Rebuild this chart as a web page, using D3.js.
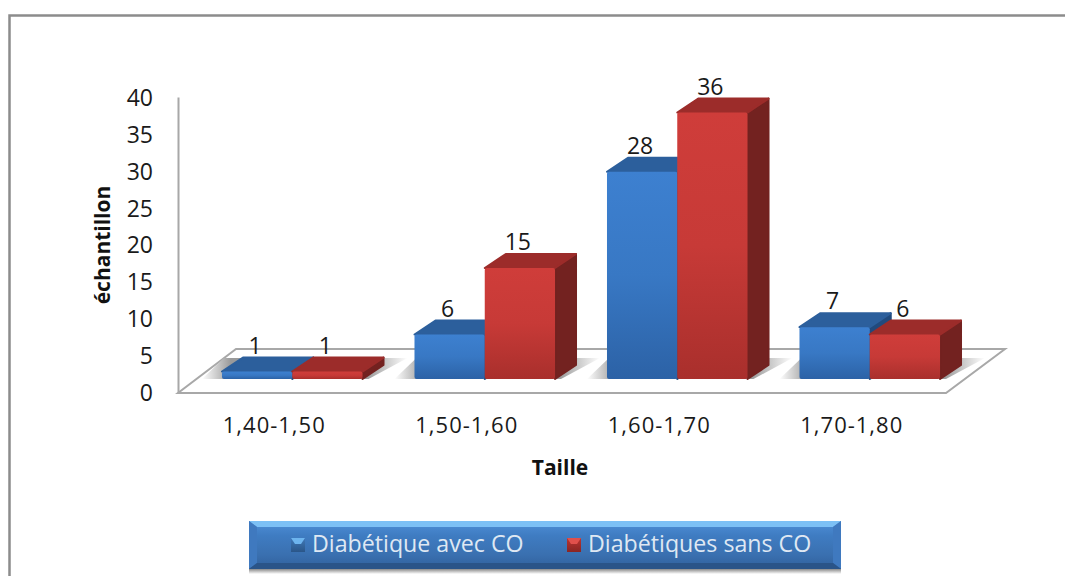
<!DOCTYPE html>
<html>
<head>
<meta charset="utf-8">
<script src="https://cdn.jsdelivr.net/npm/d3@7"></script>
<style>
  html, body { margin: 0; padding: 0; background: #fff; overflow: hidden; }
  text { font-family: "Open Sans", sans-serif; }
</style>
</head>
<body>
<script>
var categories = ["1,40-1,50", "1,50-1,60", "1,60-1,70", "1,70-1,80"];
var seriesNames = ["Diabétique avec CO", "Diabétiques sans CO"];
var avecCO = [1, 6, 28, 7];
var sansCO = [1, 15, 36, 6];
var yTicks = [0, 5, 10, 15, 20, 25, 30, 35, 40];

var width = 1065, height = 576;

var svg = d3.select("body").append("svg")
    .attr("width", width)
    .attr("height", height)
    .style("display", "block");

var defs = svg.append("defs");

function gradient(id, stops, horizontal) {
  var g = defs.append("linearGradient").attr("id", id)
    .attr("x1", 0).attr("y1", 0)
    .attr("x2", horizontal ? 1 : 0).attr("y2", horizontal ? 0 : 1);
  stops.forEach(function(s) {
    g.append("stop").attr("offset", s[0]).attr("stop-color", s[1]);
  });
}
gradient("frontBlue", [[0, "#3d80d0"], [0.5, "#3878c4"], [1, "#2c62a6"]]);
gradient("frontRed", [[0, "#cf3d3a"], [0.5, "#c73a37"], [1, "#a92f2c"]]);
gradient("legendBg", [[0, "#4f90d8"], [0.3, "#3f7cc2"], [0.7, "#3a70b0"], [1, "#30609c"]]);
gradient("swatchBlue", [[0, "#3f78b8"], [1, "#2a5688"]]);
gradient("swatchRed", [[0, "#b93431"], [1, "#8a2523"]]);
gradient("floorShadow", [[0, "#ffffff"], [0.14, "#9a9a9a"], [0.8, "#9a9a9a"], [1, "#ffffff"]], true);
gradient("legendDrop", [[0, "#8a8a8a"], [1, "#ffffff"]]);

// outer frame, only top and left sides are in the picture
svg.append("path")
    .attr("d", "M1065,15.5H9.5V576")
    .attr("fill", "none")
    .attr("stroke", "#8c8c8c")
    .attr("stroke-width", 2.5);

// scales
var floorLeft = 178, floorRight = 948, floorFront = 393;
var x = d3.scaleBand().domain(categories).range([floorLeft, floorRight]).paddingInner(0.27).paddingOuter(0.135);
var x1 = d3.scaleBand().domain(seriesNames).range([0, x.bandwidth()]);
var y = d3.scaleLinear().domain([0, 40]).range([floorFront, 97]);

// 3d offsets
var floorDepth = {dx: 58, dy: -44};
var barShift = {dx: 18, dy: -14};
var barDepth = {dx: 21, dy: -14};

// floor
svg.append("path")
    .attr("d", "M" + floorLeft + "," + floorFront +
      "L" + (floorRight - 2) + "," + floorFront +
      "L" + (floorRight - 2 + floorDepth.dx + 1) + "," + (floorFront + floorDepth.dy) +
      "L" + (floorLeft + floorDepth.dx) + "," + (floorFront + floorDepth.dy) + "Z")
    .attr("fill", "#fff")
    .attr("stroke", "#a8a8a8")
    .attr("stroke-width", 2);

// shadows on the floor, behind each pair of bars
svg.append("g").selectAll("path")
    .data(categories)
    .enter().append("path")
    .attr("d", function(d) {
      var x0 = x(d) + barShift.dx, x2 = x0 + x.bandwidth(), b = floorFront + barShift.dy;
      return "M" + (x0 - 20) + "," + b + "L" + (x2 + 6) + "," + b +
        "L" + (x2 + barDepth.dx + 24) + "," + (b + barDepth.dy - 7) + "L" + (x0 + 2) + "," + (b + barDepth.dy - 7) + "Z";
    })
    .attr("fill", "url(#floorShadow)");

// y axis with the wall line
var yAxis = d3.axisLeft(y).tickValues(yTicks).tickSize(0).tickPadding(25).tickFormat(d3.format("d"));
var yG = svg.append("g")
    .attr("transform", "translate(" + floorLeft + ",0)")
    .call(yAxis);
yG.select(".domain").attr("stroke", "#a8a8a8").attr("stroke-width", 2);
yG.selectAll("text")
    .attr("font-family", "Open Sans")
    .attr("font-size", 23)
    .attr("fill", "#1a1a1a")
    .attr("dy", "0.32em")
    .attr("y", function(d) { return d / 40; });

// x axis labels
var xAxis = d3.axisBottom(x).tickSize(0).tickPadding(24);
var xG = svg.append("g")
    .attr("transform", "translate(0," + floorFront + ")")
    .call(xAxis);
xG.select(".domain").remove();
xG.selectAll("text")
    .attr("font-family", "Open Sans")
    .attr("font-size", 22)
    .attr("letter-spacing", 1)
    .attr("fill", "#1a1a1a");

// bars
var colors = [
  {front: "url(#frontBlue)", top: "#2c5f9c", side: "#214a7d"},
  {front: "url(#frontRed)", top: "#9c2c2a", side: "#732220"}
];
var series = [avecCO, sansCO];

series.forEach(function(values, s) {
  var c = colors[s];
  var g = svg.append("g").selectAll("g")
      .data(values)
      .enter().append("g")
      .attr("transform", function(d, i) {
        return "translate(" + (x(categories[i]) + x1(seriesNames[s]) + barShift.dx) + "," + barShift.dy + ")";
      });
  var w = x1.bandwidth();

  g.append("path")
      .attr("d", function(d) {
        return "M" + w + "," + y(d) + "l" + barDepth.dx + "," + barDepth.dy +
          "V" + (floorFront + barDepth.dy) + "l" + (-barDepth.dx) + "," + (-barDepth.dy) + "Z";
      })
      .attr("fill", c.side).attr("stroke", c.side).attr("stroke-width", 2).attr("stroke-linejoin", "round");
  g.append("path")
      .attr("d", function(d) {
        return "M0," + y(d) + "l" + barDepth.dx + "," + barDepth.dy + "h" + w +
          "l" + (-barDepth.dx) + "," + (-barDepth.dy) + "Z";
      })
      .attr("fill", c.top).attr("stroke", c.top).attr("stroke-width", 2).attr("stroke-linejoin", "round");
  g.append("rect")
      .attr("x", 0)
      .attr("y", function(d) { return y(d); })
      .attr("width", w)
      .attr("height", function(d) { return floorFront - y(d); })
      .attr("rx", 2)
      .attr("fill", c.front);
});

// value labels go on top of all bars
series.forEach(function(values, s) {
  svg.append("g").selectAll("text")
      .data(values)
      .enter().append("text")
      .attr("x", function(d, i) { return x(categories[i]) + x1(seriesNames[s]) + barShift.dx + x1.bandwidth() / 2 - 2; })
      .attr("y", function(d) { return y(d) + barShift.dy - 18; })
      .attr("text-anchor", "middle")
      .attr("font-size", 23)
      .attr("fill", "#1a1a1a")
      .text(function(d) { return d; });
});

// axis titles
svg.append("text")
    .attr("transform", "translate(110,245) rotate(-90)")
    .attr("text-anchor", "middle")
    .attr("font-size", 21)
    .attr("font-weight", "bold")
    .attr("fill", "#111")
    .text("échantillon");
svg.append("text")
    .attr("x", 560)
    .attr("y", 475)
    .attr("text-anchor", "middle")
    .attr("font-size", 21)
    .attr("font-weight", "bold")
    .attr("fill", "#111")
    .text("Taille");

// legend
var legend = svg.append("g").attr("transform", "translate(249,521)");
legend.append("rect")
    .attr("y", 48).attr("width", 592).attr("height", 5)
    .attr("fill", "url(#legendDrop)");
legend.append("rect")
    .attr("width", 592).attr("height", 48)
    .attr("fill", "url(#legendBg)");
legend.append("path").attr("d", "M0,0H592L584,6H8Z").attr("fill", "#7cc0f5");
legend.append("path").attr("d", "M0,0L8,6V42L0,48Z").attr("fill", "#3f79bf");
legend.append("path").attr("d", "M592,0L584,6V42L592,48Z").attr("fill", "#3f79bf");
legend.append("path").attr("d", "M0,48H592L584,42H8Z").attr("fill", "#2a5488");

var legendItems = [
  {swatch: "url(#swatchBlue)", hi: "#6db4ee", sx: 42, tx: 63},
  {swatch: "url(#swatchRed)", hi: "#e0504c", sx: 318, tx: 339}
];
legendItems.forEach(function(it, i) {
  legend.append("rect")
      .attr("x", it.sx).attr("y", 17).attr("width", 14).attr("height", 14)
      .attr("fill", it.swatch);
  legend.append("path")
      .attr("d", "M" + it.sx + ",17h14l-4,6h-6Z")
      .attr("fill", it.hi);
  legend.append("text")
      .attr("x", it.tx).attr("y", 31)
      .attr("font-size", 23.2)
      .attr("fill", "#dfe8f3")
      .text(seriesNames[i]);
});
</script>
</body>
</html>
